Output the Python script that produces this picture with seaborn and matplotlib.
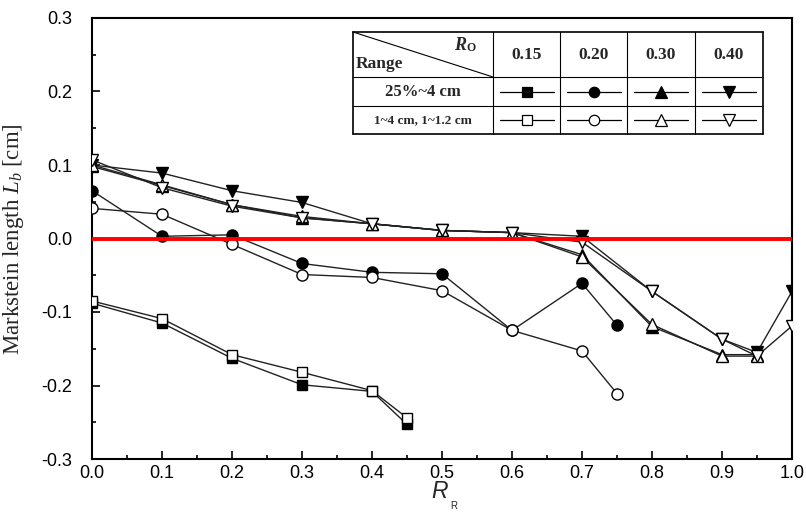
import matplotlib
matplotlib.use("Agg")
import matplotlib.pyplot as plt
from matplotlib.lines import Line2D
from matplotlib.patches import Rectangle
from matplotlib.ticker import MultipleLocator, FormatStrFormatter
import pandas as pd
import seaborn as sns

# ---- data: Markstein length L_b [cm] versus R_R ----
r_r_square = [0.0, 0.1, 0.2, 0.3, 0.4, 0.45]
lb_square_filled = [-0.088, -0.115, -0.163, -0.199, -0.208, -0.253]
lb_square_open = [-0.085, -0.109, -0.158, -0.182, -0.207, -0.244]

r_r_circle = [0.0, 0.1, 0.2, 0.3, 0.4, 0.5, 0.6, 0.7, 0.75]
lb_circle_filled = [0.065, 0.003, 0.005, -0.034, -0.046, -0.048, -0.125, -0.061, -0.118]
lb_circle_open = [0.041, 0.033, -0.008, -0.049, -0.053, -0.071, -0.125, -0.153, -0.211]

r_r_up = [0.0, 0.1, 0.2, 0.3, 0.4, 0.5, 0.6, 0.7, 0.8, 0.9, 0.95]
lb_up_filled = [0.098, 0.072, 0.046, 0.028, 0.020, 0.011, 0.008, -0.022, -0.120, -0.158, -0.158]
lb_up_open = [0.100, 0.073, 0.046, 0.030, 0.020, 0.011, 0.008, -0.025, -0.117, -0.160, -0.160]

r_r_down = [0.0, 0.1, 0.2, 0.3, 0.4, 0.5, 0.6, 0.7, 0.8, 0.9, 0.95, 1.0]
lb_down_filled = [0.100, 0.089, 0.065, 0.049, 0.020, 0.011, 0.008, 0.003, -0.072, -0.137, -0.155, -0.072]
lb_down_open = [0.107, 0.069, 0.044, 0.028, 0.020, 0.011, 0.008, -0.005, -0.072, -0.137, -0.160, -0.119]

r_o_labels = ["0.15", "0.20", "0.30", "0.40"]
range_labels = ["25%~4 cm", "1~4 cm, 1~1.2 cm"]
markers = ["s", "o", "^", "v"]

W, H = 806, 527
sns.set_style("white")
plt.rcParams["font.family"] = ["Liberation Sans", "DejaVu Sans"]
plt.rcParams["mathtext.fontset"] = "custom"
plt.rcParams["mathtext.it"] = "Liberation Serif:italic"
plt.rcParams["mathtext.rm"] = "Liberation Serif"

fig = plt.figure(figsize=(W / 100, H / 100), dpi=100)
ax = fig.add_axes([92 / W, 1 - 459 / H, 700 / W, 441 / H])

series = [
    (r_r_square, lb_square_filled, "s", "black", 7.5),
    (r_r_circle, lb_circle_filled, "o", "black", 8),
    (r_r_up, lb_up_filled, "^", "black", 9),
    (r_r_down, lb_down_filled, "v", "black", 9),
    (r_r_square, lb_square_open, "s", "white", 7.5),
    (r_r_circle, lb_circle_open, "o", "white", 8),
    (r_r_up, lb_up_open, "^", "white", 9),
    (r_r_down, lb_down_open, "v", "white", 9),
]
for xs, ys, mk, face, ms in series:
    df = pd.DataFrame({"R_R": xs, "L_b": ys})
    sns.lineplot(data=df, x="R_R", y="L_b", ax=ax, color="#222222", lw=1.0,
                 marker=mk, markersize=ms, markerfacecolor=face,
                 markeredgecolor="black", markeredgewidth=1.0,
                 estimator=None, sort=False, zorder=3)

ax.axhline(0.0, color="#ff0000", lw=2.8, zorder=4)

ax.set_xlim(0.0, 1.0)
ax.set_ylim(-0.3, 0.3)
ax.xaxis.set_major_locator(MultipleLocator(0.1))
ax.xaxis.set_minor_locator(MultipleLocator(0.05))
ax.yaxis.set_major_locator(MultipleLocator(0.1))
ax.yaxis.set_minor_locator(MultipleLocator(0.05))
ax.xaxis.set_major_formatter(FormatStrFormatter("%.1f"))
ax.yaxis.set_major_formatter(FormatStrFormatter("%.1f"))
ax.tick_params(which="both", direction="in", width=1.2, colors="black",
               labelsize=13, bottom=True, left=True, top=False, right=False)
ax.tick_params(which="major", length=6)
ax.tick_params(which="minor", length=3)
ax.tick_params(axis="y", which="major", pad=14)
ax.tick_params(axis="x", which="major", pad=4)
for s in ax.spines.values():
    s.set_linewidth(1.5)
    s.set_color("black")

ax.set_xlabel("")
ax.set_ylabel("")
fig.text(14 / W, 1 - 239 / H, "Markstein length $L_b$ [cm]", rotation=90,
         ha="center", va="center", fontsize=16.5, family="Liberation Serif")
fig.text(440 / W, 1 - 492 / H, "R", ha="center", va="center", fontsize=16.5,
         family="Liberation Sans", style="italic")
fig.text(454 / W, 1 - 506 / H, "R", ha="center", va="center", fontsize=7,
         family="Liberation Sans")


# ---- legend table drawn in pixel coordinates ----
def P(x, y):
    return x / W, 1 - y / H


def seg(x0, y0, x1, y1, lw=1.0, color="black"):
    (a, b), (c, d) = P(x0, y0), P(x1, y1)
    fig.add_artist(Line2D([a, c], [b, d], transform=fig.transFigure,
                          color=color, lw=lw, zorder=10))


tl, tr = 353, 763
tt, tb = 32, 134
col_x = [353, 493, 560, 627, 695, 763]
row_y = [32, 77, 106, 134]
fig.patches.append(Rectangle(P(tl, tb), (tr - tl) / W, (tb - tt) / H,
                             transform=fig.transFigure,
                             facecolor="white", edgecolor="none", zorder=9))
seg(tl, tt, tr, tt, 1.2)
seg(tl, tb, tr, tb, 1.2)
seg(tl, tt, tl, tb, 1.2)
seg(tr, tt, tr, tb, 1.2)
for cx in col_x[1:-1]:
    seg(cx, tt, cx, tb, 0.8)
for ry in row_y[1:-1]:
    seg(tl, ry, tr, ry, 0.8)
seg(tl, tt, col_x[1], row_y[1], 0.8)

fig.text(*P(460, 45), "R", ha="center", va="center", fontsize=13,
         fontweight="bold", style="italic", family="Liberation Serif", zorder=11)
fig.text(*P(471, 48), "O", ha="center", va="center", fontsize=8.5,
         fontweight="bold", family="Liberation Serif", zorder=11)
fig.text(*P(356, 64), "Range", ha="left", va="center", fontsize=12.5,
         fontweight="bold", family="Liberation Serif", zorder=11)
for i, lab in enumerate(r_o_labels):
    cx = (col_x[i + 1] + col_x[i + 2]) / 2
    fig.text(*P(cx, 55), lab, ha="center", va="center", fontsize=12.5,
             fontweight="bold", family="Liberation Serif", zorder=11)
row_fs = [12, 9.5]
for r, lab in enumerate(range_labels):
    cy = (row_y[r + 1] + row_y[r + 2]) / 2
    fig.text(*P((col_x[0] + col_x[1]) / 2, cy), lab, ha="center", va="center",
             fontsize=row_fs[r], fontweight="bold", family="Liberation Serif", zorder=11)
    face = "black" if r == 0 else "white"
    for i, mk in enumerate(markers):
        cx = (col_x[i + 1] + col_x[i + 2]) / 2
        seg(cx - 27, cy, cx + 27, cy, 0.9)
        fig.add_artist(Line2D([P(cx, cy)[0]], [P(cx, cy)[1]], transform=fig.transFigure,
                              marker=mk, markersize=7.5 if mk in "so" else 8.5,
                              markerfacecolor=face, markeredgecolor="black",
                              markeredgewidth=0.9, lw=0, zorder=12))

fig.savefig("out.png", dpi=100)
